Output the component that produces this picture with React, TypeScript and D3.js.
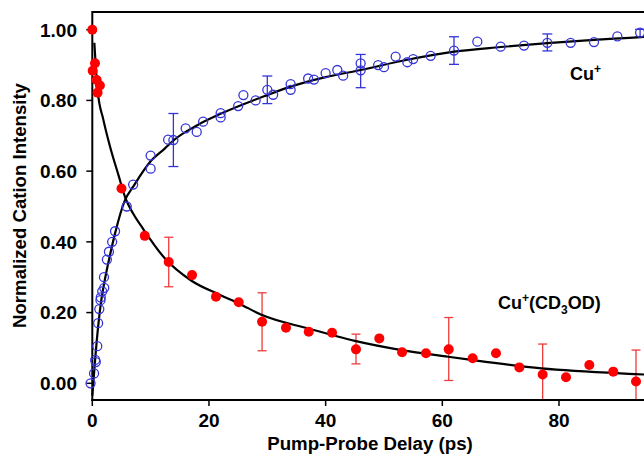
import React, { useEffect, useRef } from "react";
import * as d3 from "d3";

// Cu+ (open blue circles)
const cuDelay = [-0.3, 0.3, 0.5, 0.6, 0.85, 1.0, 1.2, 1.4, 1.45, 1.7, 2.0, 2.05, 2.5, 2.85, 3.4, 3.9, 5.9, 7.0, 10.0, 10.0, 13.0, 13.9, 16.0, 17.9, 19.0, 22.0, 22.0, 25.0, 25.9, 28.0, 30.0, 31.0, 34.0, 34.0, 37.0, 38.0, 40.0, 42.0, 43.0, 46.0, 46.0, 49.0, 50.0, 52.0, 54.0, 55.0, 58.0, 62.0, 66.0, 70.0, 74.0, 78.0, 82.0, 86.0, 90.0, 93.9];
const cuIntensity = [0.0, 0.028, 0.066, 0.06, 0.105, 0.17, 0.21, 0.235, 0.243, 0.26, 0.30, 0.27, 0.35, 0.372, 0.40, 0.43, 0.50, 0.562, 0.644, 0.607, 0.689, 0.688, 0.721, 0.711, 0.74, 0.764, 0.752, 0.784, 0.815, 0.80, 0.83, 0.816, 0.846, 0.83, 0.862, 0.859, 0.877, 0.886, 0.87, 0.905, 0.885, 0.90, 0.894, 0.924, 0.908, 0.917, 0.926, 0.941, 0.966, 0.952, 0.955, 0.963, 0.963, 0.965, 0.981, 0.992];
const cuErrDelay = [13.9, 30.0, 46.0, 62.0, 78.0, 93.9];
const cuErrCenter = [0.688, 0.83, 0.883, 0.941, 0.964, 0.99];
const cuErrHalf = [0.075, 0.039, 0.047, 0.039, 0.024, 0.011];
const cuFitDelay = [0, 0.5, 1, 1.5, 2.2, 3, 3.9, 5.6, 7, 10, 12.5, 14, 18, 22, 30, 34, 40, 46, 54, 62, 70, 78, 86, 94, 100];
const cuFitValue = [-0.035, 0.07, 0.16, 0.23, 0.297, 0.36, 0.424, 0.518, 0.556, 0.628, 0.665, 0.688, 0.73, 0.762, 0.815, 0.839, 0.866, 0.886, 0.915, 0.938, 0.951, 0.962, 0.971, 0.979, 0.983];

// Cu+(CD3OD) (filled red circles)
const cmDelay = [0.0, 0.46, 0.07, 0.75, 1.3, 0.9, 5.0, 9.0, 13.1, 17.1, 21.2, 25.1, 29.1, 33.2, 37.1, 41.1, 45.2, 49.2, 53.1, 57.2, 61.1, 65.2, 69.2, 73.2, 77.2, 81.2, 85.2, 89.3, 93.2];
const cmIntensity = [1.0, 0.905, 0.884, 0.858, 0.842, 0.822, 0.551, 0.417, 0.343, 0.306, 0.245, 0.229, 0.174, 0.157, 0.146, 0.143, 0.096, 0.127, 0.088, 0.085, 0.096, 0.071, 0.085, 0.045, 0.025, 0.017, 0.052, 0.033, 0.005];
const cmErrDelay = [13.1, 29.1, 45.2, 61.1, 77.2, 93.2];
const cmErrCenter = [0.343, 0.174, 0.097, 0.097, 0.025, 0.005];
const cmErrHalf = [0.07, 0.082, 0.042, 0.089, 0.086, 0.089];
const cmFitDelay = [0.35, 0.9, 1.9, 3, 4.5, 5.7, 7, 8.7, 12.5, 17, 21.9, 25.1, 29.1, 37, 45, 53, 61, 65, 77, 93, 100];
const cmFitValue = [0.963, 0.83, 0.745, 0.672, 0.588, 0.523, 0.48, 0.437, 0.352, 0.29, 0.25, 0.226, 0.193, 0.155, 0.12, 0.094, 0.075, 0.066, 0.042, 0.026, 0.021];

const xTicks = [0, 20, 40, 60, 80];
const yTicks = [0, 0.2, 0.4, 0.6, 0.8, 1.0];

const W = 644;
const H = 455;
const FONT = "'Liberation Sans', Arial, Helvetica, sans-serif";
const BLUE = "#3434d8";
const RED = "#ff0000";
const RED_ERR = "#ee3b3b";

export default function App() {
  const ref = useRef<SVGSVGElement | null>(null);

  useEffect(() => {
    const svg = d3.select(ref.current);
    svg.selectAll("*").remove();

    const x = d3.scaleLinear().domain([0, 80]).range([92.3, 559]);
    const y = d3.scaleLinear().domain([0, 1]).range([383.3, 29.7]);
    const left = 92.3;
    const top = 12;
    const bottom = 400;

    const defs = svg.append("defs");
    defs.append("clipPath").attr("id", "plotclip")
      .append("rect").attr("x", 80).attr("y", top).attr("width", W - 80).attr("height", bottom - top);

    const plot = svg.append("g").attr("clip-path", "url(#plotclip)");

    const line = d3.line<[number, number]>()
      .x((d) => x(d[0]))
      .y((d) => y(d[1]))
      .curve(d3.curveMonotoneX);

    const cuFit = cuFitDelay.map((d, i) => [d, cuFitValue[i]] as [number, number]);
    const cmFit = cmFitDelay.map((d, i) => [d, cmFitValue[i]] as [number, number]);

    // error bars
    const drawErr = (ds: number[], cs: number[], hs: number[], color: string, cap: number) => {
      ds.forEach((d, i) => {
        const g = plot.append("g").attr("stroke", color).attr("stroke-width", 1.3).attr("fill", "none");
        const cx = x(d);
        const y1 = y(cs[i] + hs[i]);
        const y2 = y(cs[i] - hs[i]);
        g.append("line").attr("x1", cx).attr("x2", cx).attr("y1", y1).attr("y2", y2);
        g.append("line").attr("x1", cx - cap / 2).attr("x2", cx + cap / 2).attr("y1", y1).attr("y2", y1);
        g.append("line").attr("x1", cx - cap / 2).attr("x2", cx + cap / 2).attr("y1", y2).attr("y2", y2);
      });
    };
    drawErr(cuErrDelay, cuErrCenter, cuErrHalf, BLUE, 10);
    drawErr(cmErrDelay, cmErrCenter, cmErrHalf, RED_ERR, 9);

    plot.append("path").attr("d", line(cuFit) || "").attr("fill", "none").attr("stroke", "#000").attr("stroke-width", 2.2);
    plot.append("path").attr("d", line(cmFit) || "").attr("fill", "none").attr("stroke", "#000").attr("stroke-width", 2.2);

    // axes
    const axisG = svg.append("g");
    axisG.append("line").attr("x1", left).attr("x2", W).attr("y1", top).attr("y2", top).attr("stroke", "#000").attr("stroke-width", 2);
    axisG.append("line").attr("x1", left).attr("x2", left).attr("y1", top - 1).attr("y2", bottom + 1).attr("stroke", "#000").attr("stroke-width", 2);
    axisG.append("line").attr("x1", left - 1).attr("x2", W).attr("y1", bottom).attr("y2", bottom).attr("stroke", "#000").attr("stroke-width", 2);

    xTicks.forEach((t) => {
      axisG.append("line").attr("x1", x(t)).attr("x2", x(t)).attr("y1", bottom).attr("y2", bottom + 6).attr("stroke", "#000").attr("stroke-width", 1.5);
      axisG.append("text").attr("x", x(t)).attr("y", 427).attr("text-anchor", "middle")
        .attr("font-family", FONT).attr("font-weight", "bold").attr("font-size", 19).attr("fill", "#000")
        .text(d3.format("d")(t));
    });
    yTicks.forEach((t) => {
      axisG.append("line").attr("x1", left - 6).attr("x2", left).attr("y1", y(t)).attr("y2", y(t)).attr("stroke", "#000").attr("stroke-width", 1.5);
      axisG.append("text").attr("x", 77).attr("y", y(t) + 6.8).attr("text-anchor", "end")
        .attr("font-family", FONT).attr("font-weight", "bold").attr("font-size", 19).attr("fill", "#000")
        .text(d3.format(".2f")(t));
    });

    svg.append("text").attr("x", 370).attr("y", 450).attr("text-anchor", "middle")
      .attr("font-family", FONT).attr("font-weight", "bold").attr("font-size", 18.7).attr("fill", "#000")
      .text("Pump-Probe Delay (ps)");
    svg.append("text").attr("transform", "translate(25.5,205.5) rotate(-90)").attr("text-anchor", "middle")
      .attr("font-family", FONT).attr("font-weight", "bold").attr("font-size", 18.6).attr("fill", "#000")
      .text("Normalized Cation Intensity");

    // markers
    const markers = svg.append("g");
    cuDelay.forEach((d, i) => {
      markers.append("circle").attr("cx", x(d)).attr("cy", y(cuIntensity[i])).attr("r", 4.5)
        .attr("fill", "none").attr("stroke", BLUE).attr("stroke-width", 1.3);
    });
    cmDelay.forEach((d, i) => {
      markers.append("circle").attr("cx", x(d)).attr("cy", y(cmIntensity[i])).attr("r", 5)
        .attr("fill", RED);
    });

    // labels
    const l1 = svg.append("text").attr("x", 570).attr("y", 79.5)
      .attr("font-family", FONT).attr("font-weight", "bold").attr("font-size", 18).attr("fill", "#000");
    l1.append("tspan").text("Cu");
    l1.append("tspan").attr("font-size", 12).attr("dy", -7).text("+");

    const l2 = svg.append("text").attr("x", 498).attr("y", 308.5)
      .attr("font-family", FONT).attr("font-weight", "bold").attr("font-size", 18).attr("fill", "#000");
    l2.append("tspan").text("Cu");
    l2.append("tspan").attr("font-size", 12).attr("dy", -7).text("+");
    l2.append("tspan").attr("dy", 7).text("(CD");
    l2.append("tspan").attr("font-size", 12).attr("dy", 5).text("3");
    l2.append("tspan").attr("dy", -5).text("OD)");
  }, []);

  return (
    <svg
      ref={ref}
      width={W}
      height={H}
      style={{ position: "absolute", left: 0, top: 0, background: "#fff" }}
    />
  );
}
